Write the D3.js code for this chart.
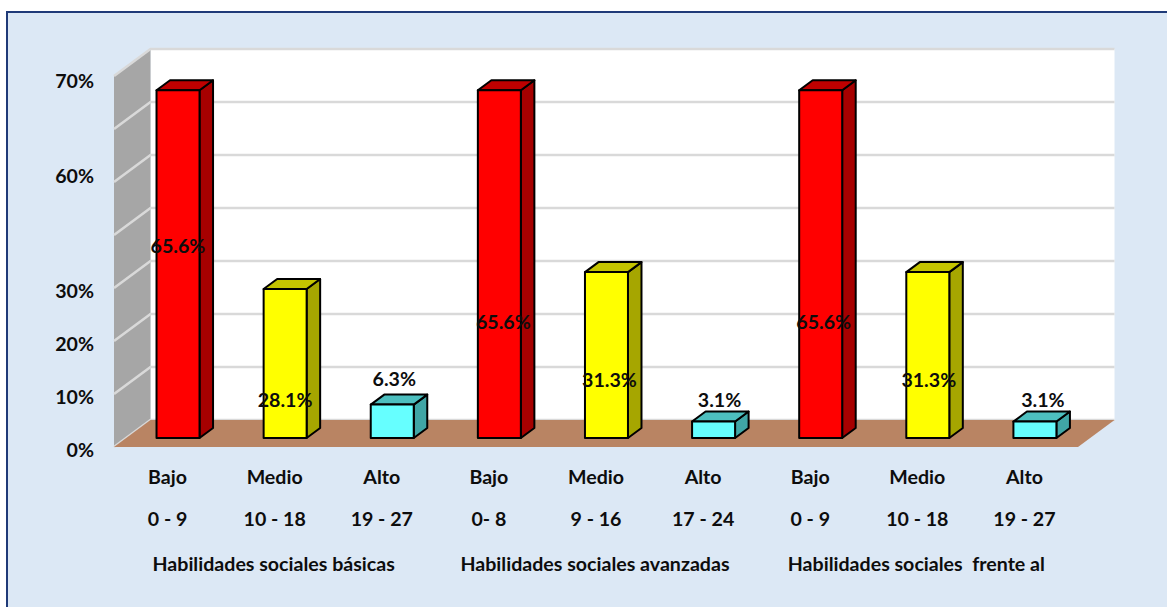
<!DOCTYPE html>
<html>
<head>
<meta charset="utf-8">
<script src="https://cdn.jsdelivr.net/npm/d3@7"></script>
<style>
  html, body { margin: 0; padding: 0; background: #fff; }
  svg { display: block; }
  text { font-family: Lato, 'Open Sans', sans-serif; font-weight: 700; font-size: 19.6px; fill: #0d0d0d; }
</style>
</head>
<body>
<svg id="chart" width="1167" height="607"></svg>
<script>
const levels = ['Bajo', 'Medio', 'Alto', 'Bajo', 'Medio', 'Alto', 'Bajo', 'Medio', 'Alto']
const ranges = ['0 - 9', '10 - 18', '19 - 27', '0- 8', '9 - 16', '17 - 24', '0 - 9', '10 - 18', '19 - 27']
const values = [65.6, 28.1, 6.3, 65.6, 31.3, 3.1, 65.6, 31.3, 3.1]
const groups = ['Habilidades sociales básicas', 'Habilidades sociales avanzadas', 'Habilidades sociales  frente al']
const gridValues = [0, 10, 20, 30, 40, 50, 60, 70]
const tickValues = [0, 10, 20, 30, 60, 70]

;(function (d3) {
  'use strict'
  const svg = d3.select('#chart')

  // the 3d box: how far the back wall sits from the front edge
  const depthX = 36.5
  const depthY = 27
  const barNear = 1 / 3
  const barFar = 19 / 27
  const barWidth = 43

  const xScale = d3.scaleBand().
    domain(d3.range(levels.length)).
    range([114, 1078])

  const yScale = d3.scaleLinear().
    domain([0, 70]).
    range([447, 76])

  const pt = (x, v, depth) => [x + depth * depthX, yScale(v) - depth * depthY]
  const poly = pts => pts.map(p => p.join(',')).join(' ')

  const [x0, x1] = xScale.range()
  const top = yScale.domain()[1]

  // panel
  svg.append('rect').
    attr('x', 7).
    attr('y', 12).
    attr('width', 1175).
    attr('height', 610).
    attr('fill', '#dce8f5').
    attr('stroke', '#1f3a78').
    attr('stroke-width', 2)

  // walls and floor
  svg.append('polygon').
    attr('points', poly([pt(x0, 0, 1), pt(x1, 0, 1), pt(x1, top, 1), pt(x0, top, 1)])).
    attr('fill', '#fff')

  svg.append('polygon').
    attr('points', poly([pt(x0, 0, 0), pt(x0, 0, 1), pt(x0, top, 1), pt(x0, top, 0)])).
    attr('fill', '#a6a6a6')

  svg.selectAll('.grid').
    data(gridValues).
    enter().
    append('polyline').
    attr('class', 'grid').
    attr('points', d => poly([pt(x0, d, 0), pt(x0, d, 1), pt(x1, d, 1)])).
    attr('fill', 'none').
    attr('stroke', '#d9d9d9').
    attr('stroke-width', 2.6)

  svg.append('polygon').
    attr('points', poly([pt(x0, 0, 0), pt(x1, 0, 0), pt(x1, 0, 1), pt(x0, 0, 1)])).
    attr('fill', '#b98463')

  // bars
  const palette = [
    { front: '#ff0000', top: '#bf0000', side: '#a60000' },
    { front: '#ffff00', top: '#c4c400', side: '#a6a600' },
    { front: '#66ffff', top: '#4dbfbf', side: '#40a6a6' },
  ]
  const barLeft = i => xScale(i) + (xScale.bandwidth() - barWidth) / 2 - 1.7

  const bars = svg.selectAll('.bar').
    data(values).
    enter().
    append('g').
    attr('class', 'bar').
    attr('stroke', '#000').
    attr('stroke-width', 2).
    attr('stroke-linejoin', 'round')

  bars.append('polygon').
    attr('points', (d, i) => {
      const l = barLeft(i)
      const r = l + barWidth
      return poly([pt(r, 0, barNear), pt(r, 0, barFar), pt(r, d, barFar), pt(r, d, barNear)])
    }).
    attr('fill', (d, i) => palette[i % 3].side)

  bars.append('polygon').
    attr('points', (d, i) => {
      const l = barLeft(i)
      const r = l + barWidth
      return poly([pt(l, d, barNear), pt(r, d, barNear), pt(r, d, barFar), pt(l, d, barFar)])
    }).
    attr('fill', (d, i) => palette[i % 3].top)

  bars.append('polygon').
    attr('points', (d, i) => {
      const l = barLeft(i)
      const r = l + barWidth
      return poly([pt(l, 0, barNear), pt(r, 0, barNear), pt(r, d, barNear), pt(l, d, barNear)])
    }).
    attr('fill', (d, i) => palette[i % 3].front)

  // value labels were dragged around by hand in the original, offsets from the bar top
  const labelDy = [155, 110, -26, 231, 107, -22, 231, 107, -22]
  const labelDx = [0, 0, 2, 4, 3, 6, 3, 1, 8]

  svg.selectAll('.value').
    data(values).
    enter().
    append('text').
    attr('class', 'value').
    attr('text-anchor', 'middle').
    attr('dominant-baseline', 'central').
    attr('x', (d, i) => barLeft(i) + barWidth / 2 + barNear * depthX + labelDx[i]).
    attr('y', (d, i) => pt(0, d, barNear)[1] + labelDy[i]).
    text(d => d.toFixed(1) + '%')

  // y axis, the 60% label sits far below its gridline in the original
  const yAxis = d3.axisLeft(yScale).
    tickValues(tickValues).
    tickSize(0).
    tickPadding(20).
    tickFormat(d => d + '%')

  const yAxisG = svg.append('g').
    attr('transform', `translate(${x0}, 2)`).
    call(yAxis)

  yAxisG.select('.domain').remove()
  yAxisG.selectAll('.tick text').
    attr('dy', d => d === 60 ? 51 : d === 70 ? 9.5 : 7)
  yAxisG.attr('font-family', null).attr('font-size', null)

  // x labels
  const xCenter = i => xScale(i) + xScale.bandwidth() / 2

  svg.selectAll('.level').
    data(levels).
    enter().
    append('text').
    attr('class', 'level').
    attr('text-anchor', 'middle').
    attr('dominant-baseline', 'central').
    attr('x', (d, i) => xCenter(i)).
    attr('y', 476).
    text(d => d)

  svg.selectAll('.range').
    data(ranges).
    enter().
    append('text').
    attr('class', 'range').
    attr('text-anchor', 'middle').
    attr('dominant-baseline', 'central').
    attr('x', (d, i) => xCenter(i)).
    attr('y', 518).
    text(d => d)

  svg.selectAll('.group').
    data(groups).
    enter().
    append('text').
    attr('class', 'group').
    attr('text-anchor', 'middle').
    attr('dominant-baseline', 'central').
    style('white-space', 'pre').
    attr('x', (d, i) => xCenter(i * 3 + 1) - 1).
    attr('y', 563).
    text(d => d)
}(d3))
</script>
</body>
</html>
